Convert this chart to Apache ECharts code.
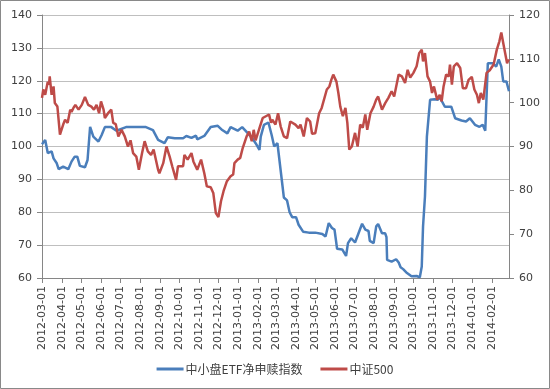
<!DOCTYPE html>
<html>
<head>
<meta charset="utf-8">
<script src="https://cdn.jsdelivr.net/npm/echarts@6/dist/echarts.min.js"></script>
<style>
html,body{margin:0;padding:0;background:#fff;}
#chart{width:550px;height:389px;}
</style>
</head>
<body>
<div id="chart"></div>
<script>
// X axis: every calendar day between first and last date; month starts are labelled
const startDate = '2012-03-01';
const endDate = '2014-02-27';

const seriesNames = ['中小盘ETF净申赎指数', '中证500'];

// Left axis series
const etfDates = ['2012-03-01','2012-03-06','2012-03-10','2012-03-16','2012-03-19','2012-03-24','2012-03-27','2012-04-03','2012-04-11','2012-04-16','2012-04-21','2012-04-25','2012-04-29','2012-05-07','2012-05-11','2012-05-15','2012-05-20','2012-05-28','2012-06-02','2012-06-07','2012-06-17','2012-06-25','2012-07-10','2012-07-26','2012-08-10','2012-08-21','2012-08-29','2012-09-08','2012-09-13','2012-09-24','2012-10-07','2012-10-12','2012-10-20','2012-10-27','2012-10-29','2012-11-09','2012-11-19','2012-11-30','2012-12-07','2012-12-15','2012-12-20','2012-12-31','2013-01-07','2013-01-15','2013-01-23','2013-01-28','2013-02-03','2013-02-05','2013-02-10','2013-02-17','2013-02-22','2013-02-26','2013-03-03','2013-03-06','2013-03-10','2013-03-13','2013-03-18','2013-03-22','2013-03-26','2013-04-01','2013-04-05','2013-04-12','2013-04-21','2013-05-01','2013-05-12','2013-05-17','2013-05-22','2013-05-27','2013-05-31','2013-06-04','2013-06-12','2013-06-18','2013-06-21','2013-06-26','2013-07-02','2013-07-07','2013-07-13','2013-07-18','2013-07-23','2013-07-25','2013-07-31','2013-08-04','2013-08-07','2013-08-13','2013-08-18','2013-08-20','2013-08-21','2013-08-28','2013-09-04','2013-09-08','2013-09-11','2013-09-15','2013-09-21','2013-09-28','2013-10-06','2013-10-09','2013-10-11','2013-10-14','2013-10-16','2013-10-19','2013-10-22','2013-10-27','2013-11-03','2013-11-08','2013-11-11','2013-11-19','2013-11-29','2013-12-05','2013-12-15','2013-12-22','2013-12-28','2014-01-05','2014-01-12','2014-01-17','2014-01-21','2014-01-25','2014-02-02','2014-02-07','2014-02-11','2014-02-15','2014-02-18','2014-02-23','2014-02-27'];
const etfValues = [100.7,102,98,98.5,96.4,94.9,93.1,93.9,93.1,95.4,96.9,96.9,94.1,93.7,95.9,106,103,101.5,103.5,105.9,105.9,104.8,105.9,105.9,105.9,105,102,101,102.8,102.5,102.5,103.2,102.6,103.3,102.2,103.2,105.9,106.3,105,104,105.9,104.8,105.9,104.2,102.5,101,99,103,106.6,107.3,103.5,100,101,100.5,89.5,84.5,83.6,80,78.5,78.5,76.2,74.1,73.8,73.8,73.4,72.6,76.7,75.2,74.7,68.9,68.7,66.7,70.6,72.1,70.8,73.4,76.5,74.7,74.3,71.3,70.6,75.7,76.4,73.6,73.6,72.4,65.5,65,65.7,64.7,63.3,62.7,61.5,60.5,60.6,61.1,60.2,63.5,75.7,84.8,103,114.2,114.4,114.2,115,112.1,112.1,108.6,107.9,107.6,108.6,106.6,106,106.6,104.8,125.3,125.3,124.3,126.5,124.3,119.8,119.8,116.8];

// Right axis series
const csiDates = ['2012-03-01','2012-03-03','2012-03-06','2012-03-10','2012-03-12','2012-03-13','2012-03-16','2012-03-19','2012-03-21','2012-03-25','2012-03-29','2012-04-03','2012-04-06','2012-04-10','2012-04-14','2012-04-16','2012-04-19','2012-04-22','2012-04-27','2012-05-02','2012-05-07','2012-05-12','2012-05-17','2012-05-21','2012-05-25','2012-05-29','2012-06-01','2012-06-05','2012-06-07','2012-06-12','2012-06-17','2012-06-20','2012-06-24','2012-06-28','2012-07-03','2012-07-08','2012-07-13','2012-07-17','2012-07-21','2012-07-26','2012-07-30','2012-08-04','2012-08-08','2012-08-13','2012-08-18','2012-08-22','2012-08-29','2012-08-31','2012-09-06','2012-09-11','2012-09-16','2012-09-20','2012-09-26','2012-09-29','2012-10-07','2012-10-09','2012-10-14','2012-10-20','2012-10-23','2012-10-29','2012-11-04','2012-11-09','2012-11-13','2012-11-19','2012-11-23','2012-11-27','2012-12-01','2012-12-05','2012-12-09','2012-12-11','2012-12-14','2012-12-20','2012-12-24','2012-12-26','2012-12-31','2013-01-04','2013-01-08','2013-01-11','2013-01-14','2013-01-18','2013-01-22','2013-01-25','2013-01-28','2013-02-03','2013-02-08','2013-02-13','2013-02-18','2013-02-21','2013-02-23','2013-02-28','2013-03-04','2013-03-08','2013-03-13','2013-03-18','2013-03-23','2013-03-31','2013-04-05','2013-04-08','2013-04-13','2013-04-18','2013-04-23','2013-04-26','2013-05-01','2013-05-07','2013-05-11','2013-05-14','2013-05-19','2013-05-23','2013-05-26','2013-05-29','2013-06-03','2013-06-06','2013-06-09','2013-06-13','2013-06-17','2013-06-20','2013-06-23','2013-06-27','2013-07-02','2013-07-06','2013-07-10','2013-07-14','2013-07-18','2013-07-21','2013-07-26','2013-07-31','2013-08-04','2013-08-07','2013-08-13','2013-08-18','2013-08-23','2013-08-28','2013-09-01','2013-09-08','2013-09-13','2013-09-18','2013-09-22','2013-09-26','2013-10-01','2013-10-06','2013-10-10','2013-10-14','2013-10-16','2013-10-19','2013-10-23','2013-10-27','2013-10-30','2013-11-02','2013-11-07','2013-11-11','2013-11-14','2013-11-17','2013-11-21','2013-11-25','2013-11-27','2013-11-30','2013-12-03','2013-12-08','2013-12-13','2013-12-17','2013-12-22','2013-12-26','2013-12-31','2014-01-04','2014-01-08','2014-01-11','2014-01-14','2014-01-18','2014-01-23','2014-01-28','2014-02-03','2014-02-08','2014-02-12','2014-02-15','2014-02-18','2014-02-21','2014-02-24','2014-02-26','2014-02-27'];
const csiValues = [101.1,103,101.8,104.8,104.1,106,101.8,103.7,99.9,99.1,92.7,95,96.1,95.4,98.4,97.9,98.8,99.5,98.4,99.5,101.3,99.5,99.1,98.4,99.5,97.6,100.3,98.4,96.5,97.6,98.4,95.4,95.1,92.3,93.8,92.3,90,91.4,88.5,87.7,84.7,88.5,91.2,88.9,88.1,89.3,84.7,83.9,86.2,90,87.7,85.5,82.4,85.5,85.5,88.1,87,88.5,86.6,84.7,87,83.9,80.9,80.7,79.4,74.8,73.9,77.5,79.8,79.4,82,83.2,83.6,86.2,87,87.4,89.7,89.8,92.3,93.4,91.2,93.8,91.4,94.2,96.5,96.9,97.3,95.4,96.1,95,97.6,94.6,92.3,91.9,95.7,95,94.2,95,92.3,96.5,95.7,92.9,93,97.6,98.8,99,103,103.7,105.2,106.4,104.8,102.2,99.1,96.9,98.8,95.4,89.3,90,93.1,90,95,94.3,97.3,93.8,97.6,99.1,100.7,101.4,98.4,99.9,101.1,102.6,101.4,106.4,106,104.5,107.5,105.7,106.8,108.3,111.3,112.1,109.4,111.3,106,104.8,102.2,103.7,100.7,101.8,100.3,103.7,106.4,106,108.7,104.1,108.3,109,107.9,103.3,103.3,105.2,105.9,103,101.8,99.9,102.2,100.7,106.8,107.4,108.7,112.1,114,116,113.6,113.4,109,109.8,109.5];

// Axis ranges
const leftMin = 60, leftMax = 140, leftStep = 10;
const rightMin = 60, rightMax = 120, rightStep = 10;

// Build daily categories
function fmt(d){
  const y = d.getUTCFullYear();
  const m = String(d.getUTCMonth()+1).padStart(2,'0');
  const dd = String(d.getUTCDate()).padStart(2,'0');
  return y + '-' + m + '-' + dd;
}
const categories = [];
{
  const p0 = startDate.split('-').map(Number), p1 = endDate.split('-').map(Number);
  let t = Date.UTC(p0[0], p0[1]-1, p0[2]);
  const tEnd = Date.UTC(p1[0], p1[1]-1, p1[2]);
  while (t <= tEnd) { categories.push(fmt(new Date(t))); t += 86400000; }
}
const isMonthStart = (idx, val) => String(val).slice(8) === '01';

const etfData = etfDates.map((d, i) => [d, etfValues[i]]);
const csiData = csiDates.map((d, i) => [d, csiValues[i]]);

const axisGray = '#868686';
const textColor = '#404040';
const font = 'DejaVu Sans';

const chart = echarts.init(document.getElementById('chart'), null, {renderer: 'canvas'});
chart.setOption({
  animation: false,
  backgroundColor: '#fff',
  textStyle: {fontFamily: font},
  graphic: [{
    type: 'rect', silent: true,
    shape: {x: 0.5, y: 0.5, width: 549, height: 388},
    style: {fill: 'none', stroke: '#898989', lineWidth: 1}
  }],
  grid: {left: 42, right: 41, top: 15, bottom: 111, containLabel: false, outerBoundsMode: 'none'},
  legend: {
    left: 'center', top: 358,
    itemWidth: 27, itemHeight: 3, itemGap: 18,
    textStyle: {fontFamily: '"Noto Sans CJK SC", "DejaVu Sans", sans-serif', fontSize: 12, color: textColor, padding: [0,0,0,-3]},
    data: [{name: seriesNames[0], icon: 'rect'}, {name: seriesNames[1], icon: 'rect'}]
  },
  xAxis: {
    type: 'category',
    data: categories,
    boundaryGap: false,
    axisLine: {lineStyle: {color: axisGray, width: 1}},
    axisTick: {show: true, interval: isMonthStart, length: 5, lineStyle: {color: axisGray}},
    axisLabel: {interval: isMonthStart, rotate: 90, margin: 8, fontSize: 11, color: textColor, fontFamily: font},
    splitLine: {show: false}
  },
  yAxis: [{
    type: 'value', min: leftMin, max: leftMax, interval: leftStep, position: 'left',
    axisLine: {show: true, lineStyle: {color: axisGray}},
    axisTick: {show: true, length: 5, lineStyle: {color: axisGray}},
    axisLabel: {fontSize: 11, color: textColor, margin: 10, fontFamily: font},
    splitLine: {show: true, lineStyle: {color: '#BFBFBF', width: 1}}
  }, {
    type: 'value', min: rightMin, max: rightMax, interval: rightStep, position: 'right',
    axisLine: {show: true, lineStyle: {color: axisGray}},
    axisTick: {show: true, length: 5, lineStyle: {color: axisGray}},
    axisLabel: {fontSize: 11, color: textColor, margin: 10, fontFamily: font},
    splitLine: {show: false}
  }],
  series: [{
    name: seriesNames[0], type: 'line', yAxisIndex: 0,
    data: etfData, connectNulls: true, showSymbol: false, symbol: 'none',
    lineStyle: {color: '#4A7EBB', width: 2.5}, itemStyle: {color: '#4A7EBB'}, z: 3
  }, {
    name: seriesNames[1], type: 'line', yAxisIndex: 1,
    data: csiData, connectNulls: true, showSymbol: false, symbol: 'none',
    lineStyle: {color: '#BE4B48', width: 2.5}, itemStyle: {color: '#BE4B48'}, z: 4
  }]
});
</script>
</body>
</html>
